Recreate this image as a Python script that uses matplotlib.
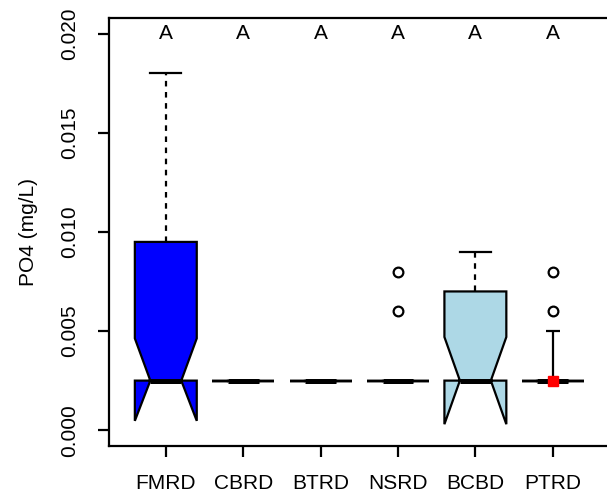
import matplotlib
matplotlib.use("Agg")
import matplotlib.pyplot as plt

plt.rcParams['font.family'] = ['Liberation Sans', 'DejaVu Sans']

# Summary statistics of PO4 per site (mg/L)
sites = ["FMRD", "CBRD", "BTRD", "NSRD", "BCBD", "PTRD"]
whislo = [0.0025, 0.0025, 0.0025, 0.0025, 0.0025, 0.0025]
q1 = [0.0025, 0.0025, 0.0025, 0.0025, 0.0025, 0.0025]
med = [0.0025, 0.0025, 0.0025, 0.0025, 0.0025, 0.0025]
q3 = [0.0095, 0.0025, 0.0025, 0.0025, 0.0070, 0.0025]
whishi = [0.0180, 0.0025, 0.0025, 0.0025, 0.0090, 0.0025]
cilo = [0.00047, 0.0025, 0.0025, 0.0025, 0.0003, 0.0025]
cihi = [0.00463, 0.0025, 0.0025, 0.0025, 0.0047, 0.0025]
fliers = [[], [], [], [0.006, 0.008], [], [0.006, 0.008]]
box_colors = ["#0000FF", "white", "white", "white", "#ADD8E6", "white"]
groups = ["A", "A", "A", "A", "A", "A"]

# mean and upper sd bar shown for PTRD
ptrd_mean = 0.0025
ptrd_sd = 0.0025

stats = []
for i, s in enumerate(sites):
    stats.append(dict(label=s, whislo=whislo[i], q1=q1[i], med=med[i], q3=q3[i],
                      whishi=whishi[i], cilo=cilo[i], cihi=cihi[i], fliers=fliers[i]))

fig = plt.figure(figsize=(6.07, 5), dpi=100)
ax = fig.add_axes([0.1788, 0.108, 0.8262, 0.856])

pos = list(range(1, len(sites) + 1))
bp = ax.bxp(stats, positions=pos, widths=0.8, shownotches=True, patch_artist=True,
            boxprops=dict(linewidth=1.6, edgecolor='black'),
            medianprops=dict(color='black', linewidth=3.6, solid_capstyle='butt'),
            whiskerprops=dict(color='black', linewidth=1.6, linestyle=(0, (2.5, 2.5))),
            capprops=dict(color='black', linewidth=1.6),
            flierprops=dict(marker='o', markersize=7, markerfacecolor='none',
                            markeredgecolor='black', markeredgewidth=1.6))
for patch, c in zip(bp['boxes'], box_colors):
    patch.set_facecolor(c)

ax.errorbar([6], [ptrd_mean], yerr=[[0], [ptrd_sd]], color='black', lw=1.6,
            capsize=4.7, capthick=1.6, zorder=3)
ax.plot([6], [ptrd_mean], 's', color='red', markersize=7, zorder=4)

for x, g in zip(pos, groups):
    ax.text(x, 0.020, g, ha='center', va='center', fontsize=15)

ax.set_xlim(0.26, 6.74)
ax.set_ylim(-0.0008, 0.0208)
ax.set_yticks([0.0, 0.005, 0.010, 0.015, 0.020])
ax.set_yticklabels(["0.000", "0.005", "0.010", "0.015", "0.020"],
                   rotation=90, va='center')
ax.set_xticks(pos)
ax.set_xticklabels(sites)
ax.tick_params(axis='both', length=8, width=1.6, labelsize=15)
ax.tick_params(axis='x', pad=12)
ax.tick_params(axis='y', pad=13)
ax.set_ylabel("PO4 (mg/L)", fontsize=15, labelpad=16)
for sp in ax.spines.values():
    sp.set_linewidth(1.6)

fig.savefig("out.png", dpi=100)
